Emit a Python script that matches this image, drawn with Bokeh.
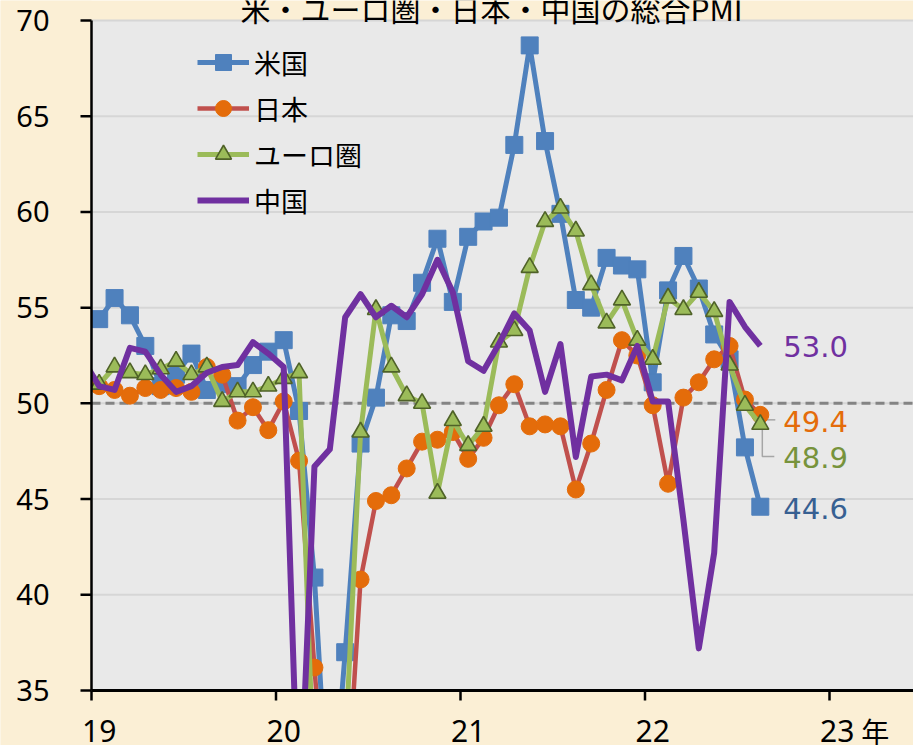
import numpy as np
from bokeh.plotting import figure
from bokeh.models import Range1d, Label, Legend, LegendItem
from bokeh.core.properties import value
from bokeh.embed import file_html
from bokeh.resources import INLINE

# ---------------- data (composite PMI, monthly) ----------------
start_year = 2019          # first month: Jan 2019
us = [54.4, 55.5, 54.6, 53.0, 50.9, 51.5, 52.6, 50.7, 51.0, 50.9, 52.0, 52.7,
      53.3, 49.6, 40.9, 27.0, 37.0, 47.9, 50.3, 54.6, 54.3, 56.3, 58.6, 55.3,
      58.7, 59.5, 59.7, 63.5, 68.7, 63.7, 59.9, 55.4, 55.0, 57.6, 57.2, 57.0,
      51.1, 55.9, 57.7, 56.0, 53.6, 52.3, 47.7, 44.6]
japan = [50.9, 50.7, 50.4, 50.8, 50.7, 50.8, 50.6, 51.9, 51.5, 49.1, 49.8, 48.6,
         50.1, 47.0, 36.2, 25.8, 27.8, 40.8, 44.9, 45.2, 46.6, 48.0, 48.1, 48.5,
         47.1, 48.2, 49.9, 51.0, 48.8, 48.9, 48.8, 45.5, 47.9, 50.7, 53.3, 52.5,
         49.9, 45.8, 50.3, 51.1, 52.3, 53.0, 50.2, 49.4]
euro = [51.0, 51.9, 51.6, 51.5, 51.8, 52.2, 51.5, 51.9, 50.1, 50.6, 50.6, 50.9,
        51.3, 51.6, 29.7, 13.6, 31.9, 48.5, 54.9, 51.9, 50.4, 50.0, 45.3, 49.1,
        47.8, 48.8, 53.2, 53.8, 57.1, 59.5, 60.2, 59.0, 56.2, 54.2, 55.4, 53.3,
        52.3, 55.5, 54.9, 55.8, 54.8, 52.0, 49.9, 48.9]
# China series starts one month earlier (Dec 2018)
china_prev = 52.2
china = [50.9, 50.7, 52.9, 52.7, 51.5, 50.6, 50.9, 51.6, 51.9, 52.0, 53.2, 52.6,
         51.9, 27.5, 46.7, 47.6, 54.5, 55.7, 54.5, 55.1, 54.5, 55.7, 57.5, 55.8,
         52.2, 51.7, 53.1, 54.7, 53.8, 50.6, 53.1, 47.2, 51.4, 51.5, 51.2, 53.0,
         50.1, 50.1, 43.9, 37.2, 42.2, 55.3, 54.0, 53.0]

series_names = ["米国", "日本", "ユーロ圏", "中国"]
tick_years = [19, 20, 21, 22, 23]
tick_labels = ["19", "20", "21", "22", "23"]
year_unit = "年"
y_ticks = [35, 40, 45, 50, 55, 60, 65, 70]
y_tick_labels = ["35", "40", "45", "50", "55", "60", "65", "70"]
title_text = "米・ユーロ圏・日本・中国の総合PMI"
y_min, y_max = 35, 70

# x positions: middle of each month, in years since 2000
n = len(us)
x = np.array([(start_year - 2000) + (i + 0.5) / 12 for i in range(n)])
x_china = np.concatenate([[x[0] - 1 / 12], x])
y_china = [china_prev] + china

# ---------------- layout (pixels) ----------------
W, H = 913, 745
LEFT, TOP, PLOT_W, PLOT_H = 91, 20, 822, 670
BOTTOM = H - TOP - PLOT_H
px_x = 1 / 184.5                       # years per pixel
px_y = (y_max - y_min) / PLOT_H        # PMI points per pixel
x_lo = tick_years[0] - LEFT * px_x
x_hi = tick_years[0] + PLOT_W * px_x
y_lo = y_min - BOTTOM * px_y
y_hi = y_max + TOP * px_y
bg = "#fbefd5"
plot_bg = "#e9e9e9"

# the whole canvas is the data frame; axes are drawn explicitly
p = figure(width=W, height=H, x_range=Range1d(x_lo, x_hi),
           y_range=Range1d(y_lo, y_hi),
           output_backend="svg", toolbar_location=None,
           x_axis_location=None, y_axis_location=None,
           min_border=0, min_border_left=0, min_border_right=0,
           min_border_top=0, min_border_bottom=0,
           background_fill_color=bg, border_fill_color=bg,
           outline_line_color=None)
p.grid.visible = False

x_start = tick_years[0]
# plotting area background and grid
p.quad(left=[x_start], right=[x_hi], bottom=[y_min], top=[y_max],
       fill_color=plot_bg, line_color=None)
p.segment(x0=[x_start] * len(y_ticks), x1=[x_hi] * len(y_ticks),
          y0=y_ticks, y1=y_ticks, line_color="#d6d6d6", line_width=2)
# 50 reference line
p.segment(x0=[x_start], x1=[x_hi], y0=[50], y1=[50], line_color="#848484",
          line_width=3, line_dash="9 5")

# leader lines for end labels (offsets in screen pixels converted to data)
p.line([x[-1] + 3 * px_x, x[-1] + 15 * px_x],
       [japan[-1] - 5 * px_y, japan[-1] - 5 * px_y],
       line_color="#a6a6a6", line_width=1.5)
p.line([x[-1] + 2 * px_x, x[-1] + 2 * px_x, x[-1] + 14 * px_x],
       [euro[-1] - 1 * px_y, euro[-1] - 32 * px_y, euro[-1] - 32 * px_y],
       line_color="#a6a6a6", line_width=1.5)

# series
l_us = p.line(x, us, line_color="#4f81bd", line_width=5, line_join="round")
s_us = p.scatter(x, us, marker="square", size=17, fill_color="#4f81bd",
                 line_color="#4f81bd")
l_jp = p.line(x, japan, line_color="#c0504d", line_width=4.5, line_join="round")
s_jp = p.scatter(x, japan, marker="circle", size=17, fill_color="#e46c0a",
                 line_color="#e46c0a")
l_eu = p.line(x, euro, line_color="#9bbb59", line_width=5, line_join="round")
s_eu = p.scatter(x, euro, marker="triangle", size=17, fill_color="#9bbb59",
                 line_color="#4f6228", line_width=1.6)
l_cn = p.line(x_china, y_china, line_color="#7030a0", line_width=6,
              line_join="round")

# mask everything outside the plotting area (below the x axis, left of the y axis)
p.quad(left=[x_lo, x_start], right=[x_start, x_hi], bottom=[y_lo, y_lo],
       top=[y_hi, y_min], fill_color=bg, line_color=None)

# axis lines
p.segment(x0=[x_start], x1=[x_start], y0=[y_min], y1=[y_max],
          line_color="black", line_width=2.5)
p.segment(x0=[x_start], x1=[x_hi], y0=[y_min], y1=[y_min],
          line_color="black", line_width=3)
# y ticks and labels
p.segment(x0=[x_start - 11 * px_x] * len(y_ticks), x1=[x_start] * len(y_ticks),
          y0=y_ticks, y1=y_ticks, line_color="black", line_width=2.5)
p.text(x=[x_start - 42 * px_x] * len(y_ticks), y=y_ticks, text=y_tick_labels,
       text_font=value("Noto Sans"), text_font_size=value("29px"),
       text_color="black", text_align="right", text_baseline="middle")
# x ticks (year boundaries) and labels (centred on January)
p.segment(x0=tick_years, x1=tick_years, y0=[y_min] * len(tick_years),
          y1=[y_min - 10 * px_y] * len(tick_years),
          line_color="black", line_width=2.5)
label_pos = [t + 1 / 24 for t in tick_years]
p.text(x=label_pos, y=[y_min - 40 * px_y] * len(label_pos), text=tick_labels,
       text_font=value("Noto Sans"), text_font_size=value("30px"),
       text_color="black", text_align="center", text_baseline="middle")
p.text(x=[label_pos[-1] + 24 * px_x], y=[y_min - 40 * px_y], text=[year_unit],
       text_font=value("Noto Sans CJK JP"), text_font_size=value("28px"),
       text_color="black", text_align="left", text_baseline="middle")

legend = Legend(items=[
    LegendItem(label=series_names[0], renderers=[l_us, s_us]),
    LegendItem(label=series_names[1], renderers=[l_jp, s_jp]),
    LegendItem(label=series_names[2], renderers=[l_eu, s_eu]),
    LegendItem(label=series_names[3], renderers=[l_cn]),
], location=(LEFT + 106, BOTTOM + 467), orientation="vertical",
    background_fill_alpha=0, border_line_color=None,
    glyph_width=52, glyph_height=40, label_height=46, spacing=0,
    padding=0, margin=0, label_standoff=5,
    label_text_font="Noto Sans CJK JP", label_text_font_size="27px",
    label_text_color="black")
p.add_layout(legend)

# end-value labels
end_specs = [
    (china[-1], "#7030a0", -1),
    (japan[-1], "#e46c0a", -7),
    (euro[-1], "#77933c", -33),
    (us[-1], "#376092", -2),
]
for val, col, dy in end_specs:
    p.add_layout(Label(x=x[-1], y=val, x_offset=23, y_offset=dy,
                       text=f"{val:.1f}", text_color=col,
                       text_font="DejaVu Sans", text_font_size="29px",
                       text_baseline="middle", text_align="left"))

# title (cut by the top edge, as in the reference)
p.add_layout(Label(x=491, y=y_max, x_units="screen", y_offset=13,
                   text=title_text, text_color="black",
                   text_font="Noto Sans CJK JP", text_font_size="30px",
                   text_baseline="alphabetic", text_align="center"))

open("out.html", "w").write(file_html(p, INLINE))
